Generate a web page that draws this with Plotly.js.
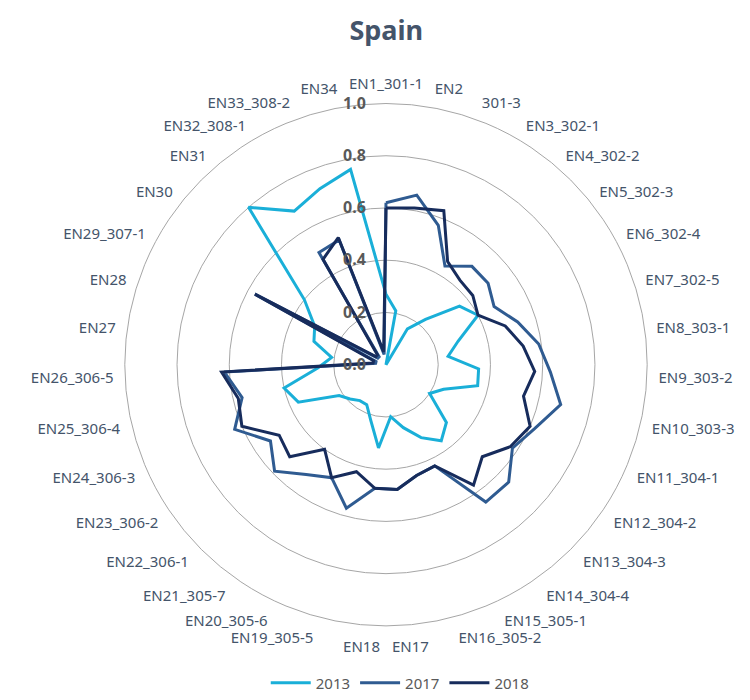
<!DOCTYPE html>
<html>
<head>
<meta charset="utf-8">
<script src="https://cdn.plot.ly/plotly-3.0.1.min.js"></script>
<style>html,body{margin:0;padding:0;background:#fff;}#chart{width:750px;height:700px;}</style>
</head>
<body>
<div id="chart"></div>
<script>
var categories = ['EN1_301-1','EN2','301-3','EN3_302-1','EN4_302-2','EN5_302-3','EN6_302-4','EN7_302-5','EN8_303-1','EN9_303-2','EN10_303-3','EN11_304-1','EN12_304-2','EN13_304-3','EN14_304-4','EN15_305-1','EN16_305-2','EN17','EN18','EN19_305-5','EN20_305-6','EN21_305-7','EN22_306-1','EN23_306-2','EN24_306-3','EN25_306-4','EN26_306-5','EN27','EN28','EN29_307-1','EN30','EN31','EN32_308-1','EN33_308-2','EN34'];

var values2013 = [0.27,0.21,0.00,0.16,0.23,0.36,0.40,0.29,0.24,0.355,0.36,0.24,0.20,0.32,0.36,0.31,0.25,0.20,0.32,0.22,0.17,0.17,0.19,0.215,0.365,0.40,0.26,0.21,0.29,0.31,0.40,0.80,0.685,0.72,0.76];
var values2017 = [0.62,0.66,0.57,0.44,0.50,0.50,0.47,0.53,0.59,0.63,0.686,0.62,0.58,0.65,0.65,0.43,0.44,0.48,0.475,0.57,0.48,0.52,0.59,0.53,0.63,0.565,0.62,0.04,0.04,0.57,0.04,0.04,0.50,0.51,0.04];
var values2018 = [0.60,0.61,0.63,0.46,0.43,0.425,0.40,0.48,0.53,0.57,0.54,0.60,0.57,0.51,0.57,0.43,0.44,0.48,0.475,0.425,0.48,0.40,0.51,0.49,0.60,0.58,0.63,0.05,0.05,0.57,0.05,0.05,0.47,0.52,0.05];

var seriesNames = ['2013','2017','2018'];
var seriesColors = ['#1AAFD8','#2F5B91','#172C5C'];
var radialTicks = [0,0.2,0.4,0.6,0.8,1.0];

function closed(arr){ return arr.concat([arr[0]]); }

var allValues = [values2013, values2017, values2018];
var traces = allValues.map(function(v,i){
  return {
    type:'scatterpolar',
    mode:'lines',
    r: closed(v),
    theta: closed(categories),
    name: seriesNames[i],
    line:{color:seriesColors[i], width:3},
    hoverinfo:'skip'
  };
});

var layout = {
  width:750, height:700,
  margin:{l:0,r:0,t:0,b:0},
  paper_bgcolor:'#fff',
  font:{family:'Noto Sans, sans-serif', color:'#44546A'},
  title:{text:'<b>Spain</b>', x:0.515, xanchor:'center', y:0.957, yanchor:'middle',
         font:{size:27, color:'#44546A', family:'Noto Sans, sans-serif'}},
  showlegend:true,
  legend:{orientation:'h', x:0.533, xanchor:'center', y:0.01, yanchor:'middle',
          font:{size:15, color:'#595959'}, itemwidth:40, traceorder:'normal'},
  polar:{
    domain:{x:[0.1613,0.868], y:[0.0929,0.85]},
    bgcolor:'#fff',
    angularaxis:{
      type:'category',
      categoryarray:categories,
      direction:'clockwise',
      rotation:90,
      showgrid:false,
      showline:true,
      linecolor:'#A6A6A6',
      linewidth:1,
      ticks:'outside',
      ticklen:8,
      tickcolor:'rgba(0,0,0,0)',
      tickfont:{size:15, color:'#44546A', family:'Noto Sans, sans-serif'}
    },
    radialaxis:{
      range:[0,1],
      tickvals:radialTicks,
      tickformat:'.1f',
      angle:90,
      side:'counterclockwise',
      tickangle:90,
      showline:false,
      showgrid:true,
      gridcolor:'#A6A6A6',
      gridwidth:1,
      ticks:'outside',
      ticklen:14,
      tickcolor:'rgba(0,0,0,0)',
      tickfont:{size:16, color:'#595959', family:'Noto Sans, sans-serif', weight:'bold'}
    }
  }
};

Plotly.newPlot('chart', traces, layout, {displayModeBar:false, staticPlot:true});
</script>
</body>
</html>
